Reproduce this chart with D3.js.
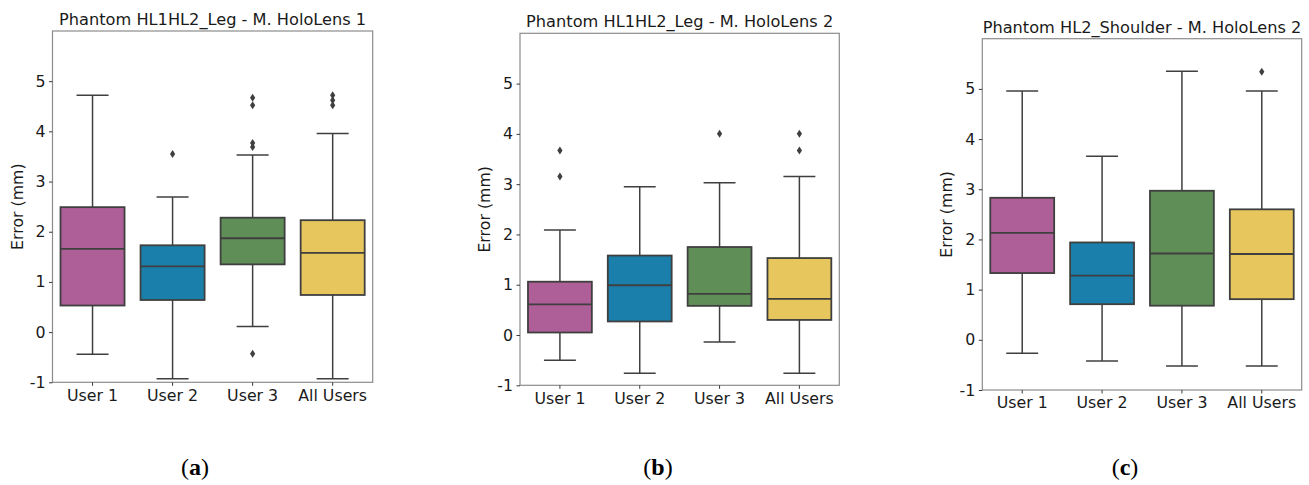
<!DOCTYPE html>
<html>
<head>
<meta charset="utf-8">
<script src="https://cdn.jsdelivr.net/npm/d3@7"></script>
<style>
  body { margin: 0; background: #fff; }
  svg text { font-family: "DejaVu Sans", sans-serif; }
</style>
</head>
<body>
<svg id="chart" width="1309" height="485"></svg>
<script>
// categories and axis ticks shared by the three panels
const users = ["User 1", "User 2", "User 3", "All Users"]
const yTicks = [-1, 0, 1, 2, 3, 4, 5]
const boxColors = ["#ae5f97", "#1a80ab", "#5f8f57", "#e6c65d"]

const titles = [
    "Phantom HL1HL2_Leg - M. HoloLens 1",
    "Phantom HL1HL2_Leg - M. HoloLens 2",
    "Phantom HL2_Shoulder - M. HoloLens 2"
]
const captions = ["a", "b", "c"]

// box stats: [lowWhisker, q1, median, q3, highWhisker]
const statsA = [
    [-0.44, 0.53, 1.66, 2.49, 4.72],
    [-0.93, 0.64, 1.31, 1.73, 2.69],
    [0.11, 1.35, 1.87, 2.28, 3.53],
    [-0.93, 0.74, 1.58, 2.23, 3.96]
]
const outliersA = [
    [],
    [3.55],
    [4.67, 4.52, 3.77, 3.69, -0.43],
    [4.72, 4.62, 4.52]
]

const statsB = [
    [-0.50, 0.05, 0.61, 1.06, 2.09],
    [-0.76, 0.27, 0.99, 1.58, 2.95],
    [-0.14, 0.58, 0.82, 1.75, 3.03],
    [-0.76, 0.30, 0.72, 1.53, 3.15]
]
const outliersB = [
    [3.67, 3.15],
    [],
    [4.00],
    [4.00, 3.67]
]

const statsC = [
    [-0.27, 1.33, 2.13, 2.83, 4.96],
    [-0.42, 0.71, 1.28, 1.94, 3.66],
    [-0.52, 0.68, 1.72, 2.97, 5.35],
    [-0.52, 0.81, 1.71, 2.60, 4.96]
]
const outliersC = [
    [],
    [],
    [],
    [5.34]
]

const svg = d3.select("#chart")

// plot frames of the three panels
const frames = [
    {left: 52.5, right: 372.7, top: 31, bottom: 382.3, labelX: 17.5},
    {left: 520, right: 839.3, top: 33.3, bottom: 385.3, labelX: 484.5},
    {left: 982.3, right: 1301.7, top: 38.7, bottom: 390, labelX: 946}
]
const captionX = [195, 658, 1125]

drawPanel(frames[0], titles[0], statsA, outliersA)
drawPanel(frames[1], titles[1], statsB, outliersB)
drawPanel(frames[2], titles[2], statsC, outliersC)

function drawPanel(f, title, stats, outliers) {
    const x = d3.scaleBand()
        .domain(users)
        .range([f.left, f.right])
    const y = d3.scaleLinear()
        .domain([-1, 6])
        .range([f.bottom, f.top])

    const g = svg.append("g")

    // frame
    g.append("rect")
        .attr("x", f.left)
        .attr("y", f.top)
        .attr("width", f.right - f.left)
        .attr("height", f.bottom - f.top)
        .attr("fill", "none")
        .attr("stroke", "#8c8c8c")
        .attr("stroke-width", 1.2)

    const boxW = x.bandwidth() * 0.8
    const stroke = "#3f3f3f"

    users.forEach(function (u, i) {
        const s = stats[i]
        const cx = x(u) + x.bandwidth() / 2
        // whiskers
        g.append("line")
            .attr("x1", cx).attr("x2", cx)
            .attr("y1", y(s[0])).attr("y2", y(s[1]))
            .attr("stroke", stroke).attr("stroke-width", 1.5)
        g.append("line")
            .attr("x1", cx).attr("x2", cx)
            .attr("y1", y(s[3])).attr("y2", y(s[4]))
            .attr("stroke", stroke).attr("stroke-width", 1.5)
        // caps
        ;[s[0], s[4]].forEach(function (v) {
            g.append("line")
                .attr("x1", cx - boxW / 4).attr("x2", cx + boxW / 4)
                .attr("y1", y(v)).attr("y2", y(v))
                .attr("stroke", stroke).attr("stroke-width", 1.5)
        })
        // box
        g.append("rect")
            .attr("x", cx - boxW / 2)
            .attr("y", y(s[3]))
            .attr("width", boxW)
            .attr("height", y(s[1]) - y(s[3]))
            .attr("fill", boxColors[i])
            .attr("stroke", stroke)
            .attr("stroke-width", 1.8)
        // median
        g.append("line")
            .attr("x1", cx - boxW / 2).attr("x2", cx + boxW / 2)
            .attr("y1", y(s[2])).attr("y2", y(s[2]))
            .attr("stroke", stroke).attr("stroke-width", 1.8)
        // outliers as thin diamonds
        g.selectAll(null)
            .data(outliers[i])
            .enter()
            .append("path")
            .attr("d", function (v) {
                const py = y(v)
                return "M" + cx + "," + (py - 4) + "L" + (cx + 2.6) + "," + py +
                    "L" + cx + "," + (py + 4) + "L" + (cx - 2.6) + "," + py + "Z"
            })
            .attr("fill", stroke)
    })

    // axes
    const xAxis = g.append("g")
        .attr("transform", "translate(0," + f.bottom + ")")
        .call(d3.axisBottom(x).tickSize(3.5).tickSizeOuter(0).tickPadding(3.5))
    const yAxis = g.append("g")
        .attr("transform", "translate(" + f.left + ",0)")
        .call(d3.axisLeft(y).tickValues(yTicks).tickFormat(d => String(d))
            .tickSize(3.5).tickSizeOuter(0).tickPadding(3.5))

    ;[xAxis, yAxis].forEach(function (a) {
        a.select(".domain").remove()
        a.selectAll(".tick line").attr("stroke", "#3a3a3a").attr("stroke-width", 1)
        a.selectAll(".tick text")
            .attr("fill", "#1a1a1a")
            .style("font-size", "15.8px")
            .style("font-family", "'DejaVu Sans', sans-serif")
    })

    // title
    g.append("text")
        .attr("x", (f.left + f.right) / 2)
        .attr("y", f.top - 6)
        .attr("text-anchor", "middle")
        .attr("fill", "#1a1a1a")
        .style("font-size", "16.2px")
        .text(title)

    // y label
    g.append("text")
        .attr("transform", "translate(" + f.labelX + "," + ((f.top + f.bottom) / 2) + ")rotate(-90)")
        .attr("text-anchor", "middle")
        .attr("dominant-baseline", "central")
        .attr("fill", "#1a1a1a")
        .style("font-size", "15.8px")
        .text("Error (mm)")
}

// sub-figure captions
captions.forEach(function (c, i) {
    const t = svg.append("text")
        .attr("x", captionX[i])
        .attr("y", 475)
        .attr("text-anchor", "middle")
        .style("font-family", "'Liberation Serif', serif")
        .style("font-size", "24px")
        .attr("fill", "#000")
    t.append("tspan").text("(")
    t.append("tspan").style("font-weight", "bold").text(c)
    t.append("tspan").text(")")
})
</script>
</body>
</html>
